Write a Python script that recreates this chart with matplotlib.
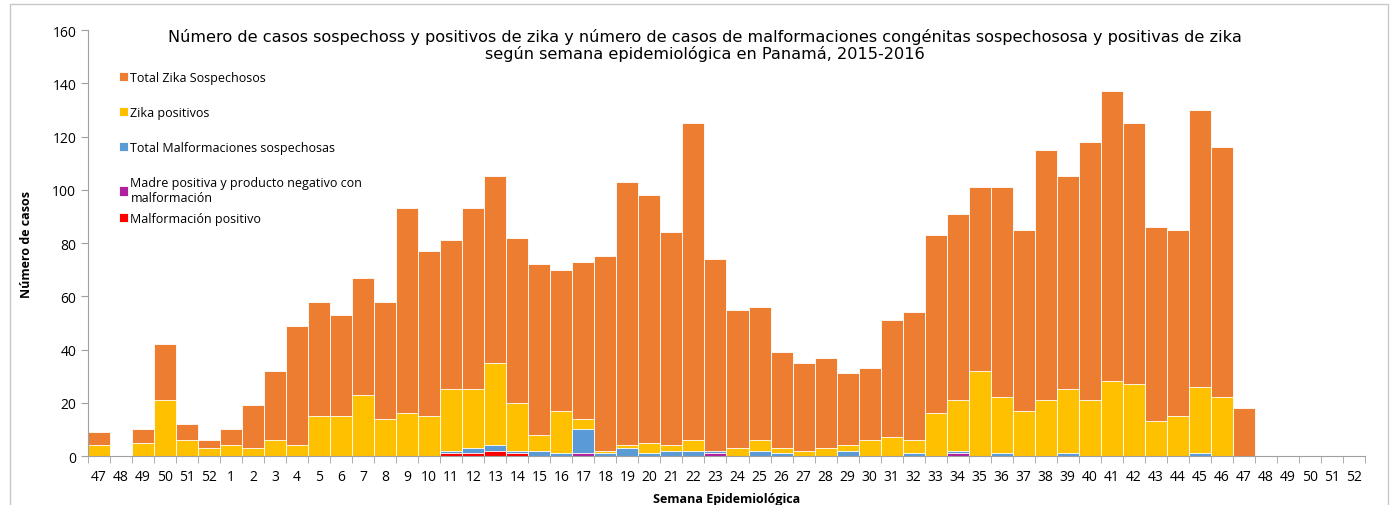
import numpy as np
import matplotlib.pyplot as plt
from matplotlib.patches import Rectangle

# semanas epidemiologicas: 47-52 de 2015 y 1-52 de 2016
semanas = [str(s) for s in range(47, 53)] + [str(s) for s in range(1, 53)]

total_sospechosos = [9, 0, 10, 42, 12, 6,
                     10, 19, 32, 49, 58, 53, 67, 58, 93, 77,
                     81, 93, 105, 82, 72, 70, 73, 75, 103, 98,
                     84, 125, 74, 55, 56, 39, 35, 37, 31, 33,
                     51, 54, 83, 91, 101, 101, 85, 115, 105, 118,
                     137, 125, 86, 85, 130, 116, 18, 0, 0, 0, 0, 0]

zika_positivos = [4, 0, 5, 21, 6, 3,
                  4, 3, 6, 4, 15, 15, 23, 14, 16, 15,
                  25, 25, 35, 20, 8, 17, 14, 2, 4, 5,
                  4, 6, 1, 3, 6, 3, 2, 3, 4, 6,
                  7, 6, 16, 21, 32, 22, 17, 21, 25, 21,
                  28, 27, 13, 15, 26, 22, 0, 0, 0, 0, 0, 0]

malf_sospechosas = [0, 0, 0, 0, 0, 0,
                    0, 0, 0, 0, 0, 0, 0, 0, 0, 0,
                    2, 3, 4, 2, 2, 1, 10, 1, 3, 1,
                    2, 2, 2, 0, 2, 1, 0, 0, 2, 0,
                    0, 1, 0, 2, 0, 1, 0, 0, 1, 0,
                    0, 0, 0, 0, 1, 0, 0, 0, 0, 0, 0, 0]

madre_pos_prod_neg = [0, 0, 0, 0, 0, 0,
                      0, 0, 0, 0, 0, 0, 0, 0, 0, 0,
                      0, 0, 0, 0, 0, 0, 1, 0, 0, 0,
                      0, 0, 1, 0, 0, 0, 0, 0, 0, 0,
                      0, 0, 0, 1, 0, 0, 0, 0, 0, 0,
                      0, 0, 0, 0, 0, 0, 0, 0, 0, 0, 0, 0]

malf_positivo = [0, 0, 0, 0, 0, 0,
                 0, 0, 0, 0, 0, 0, 0, 0, 0, 0,
                 1, 1, 2, 1, 0, 0, 0, 0, 0, 0,
                 0, 0, 0, 0, 0, 0, 0, 0, 0, 0,
                 0, 0, 0, 0, 0, 0, 0, 0, 0, 0,
                 0, 0, 0, 0, 0, 0, 0, 0, 0, 0, 0, 0]

plt.rcParams['font.family'] = ['Open Sans', 'DejaVu Sans']

fig = plt.figure(figsize=(13.92, 5.06), dpi=100)
fig.patches.append(Rectangle((0.007, -0.01), 0.99, 1.0, transform=fig.transFigure,
                             fill=False, edgecolor='#c8c8c8', lw=1))
ax = fig.add_axes([0.0632, 0.0968, 0.9174, 0.8419])

x = np.arange(len(semanas))
series = [
    (total_sospechosos, '#ED7D31', 'Total Zika Sospechosos'),
    (zika_positivos, '#FFC000', 'Zika positivos'),
    (malf_sospechosas, '#5B9BD5', 'Total Malformaciones sospechosas'),
    (madre_pos_prod_neg, '#B01F9E', 'Madre positiva y producto negativo con\nmalformación'),
    (malf_positivo, '#FF0000', 'Malformación positivo'),
]
bars = []
for vals, col, lab in series:
    bars.append(ax.bar(x, vals, width=1.0, color=col, edgecolor='white', linewidth=0.6, label=lab))

ax.set_xlim(-0.5, len(semanas) - 0.5)
ax.set_ylim(0, 160)
ax.set_yticks(range(0, 161, 20))
ax.set_xticks(x)
ax.set_xticklabels(semanas, fontsize=10)
ax.set_xticks(np.arange(-0.5, len(semanas), 1), minor=True)
ax.tick_params(axis='x', which='major', length=0, pad=9)
ax.tick_params(axis='x', which='minor', length=5, color='#a0a0a0')
ax.tick_params(axis='y', length=5, color='#a0a0a0', labelsize=10)

for s in ['top', 'right']:
    ax.spines[s].set_visible(False)
for s in ['left', 'bottom']:
    ax.spines[s].set_color('#a0a0a0')

ax.set_ylabel('Número de casos', fontsize=9, fontweight='bold', labelpad=14)
ax.set_xlabel('Semana Epidemiológica', fontsize=9, fontweight='bold', labelpad=6)

ax.set_title('Número de casos sospechoss y positivos de zika y número de casos de malformaciones congénitas sospechososa y positivas de zika\n'
             'según semana epidemiológica en Panamá, 2015-2016',
             fontsize=11.6, family='DejaVu Sans', x=0.483, y=0.914, linespacing=1.12)

leg_kw = dict(loc='upper left', frameon=False, fontsize=9, handlelength=0.75,
              handleheight=0.75, handletextpad=0.2, borderaxespad=0)
leg1 = ax.legend(bars[:4], [s[2] for s in series[:4]], bbox_to_anchor=(0.02, 0.9155),
                 labelspacing=1.77, **leg_kw)
ax.add_artist(leg1)
ax.legend(bars[4:], [series[4][2]], bbox_to_anchor=(0.02, 0.5845), **leg_kw)

fig.savefig('out.png', dpi=100)
